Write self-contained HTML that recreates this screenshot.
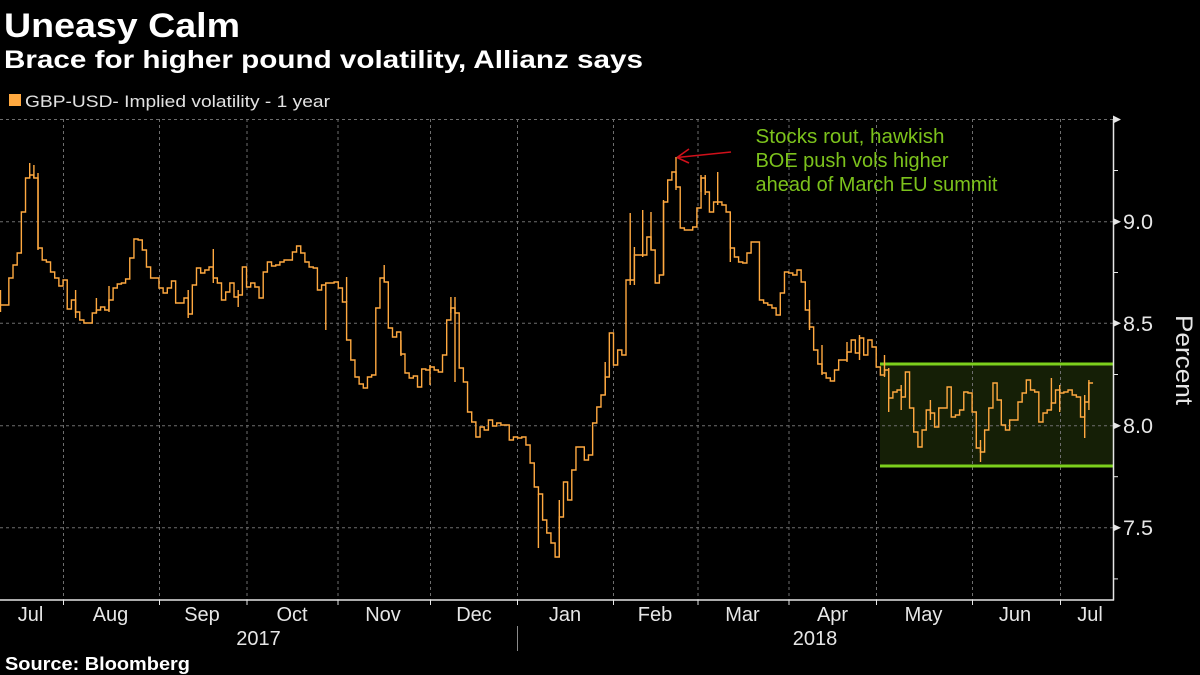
<!DOCTYPE html>
<html>
<head>
<meta charset="utf-8">
<style>
  html,body{margin:0;padding:0;background:#000;}
  svg{display:block;}
  text{font-family:"Liberation Sans","DejaVu Sans",sans-serif;}
</style>
</head>
<body>
<svg width="1200" height="675" viewBox="0 0 1200 675" xmlns="http://www.w3.org/2000/svg">
  <rect x="0" y="0" width="1200" height="675" fill="#000"/>

  <!-- Titles -->
  <text x="4" y="37" font-size="34" font-weight="bold" fill="#ffffff" textLength="236" lengthAdjust="spacingAndGlyphs">Uneasy Calm</text>
  <text x="4" y="68" font-size="25" font-weight="bold" fill="#ffffff" textLength="639" lengthAdjust="spacingAndGlyphs">Brace for higher pound volatility, Allianz says</text>

  <!-- Legend -->
  <rect x="9" y="94" width="12" height="12" fill="#ffa940"/>
  <text x="25" y="107" font-size="17" fill="#e2e2e2" textLength="305" lengthAdjust="spacingAndGlyphs">GBP-USD- Implied volatility - 1 year</text>

  <!-- Shaded range box -->
  <rect x="880" y="364" width="233" height="102" fill="#151f06"/>

  <!-- Horizontal gridlines -->
  <g stroke="#6e6e6e" stroke-width="1" stroke-dasharray="3,3" fill="none">
    <line x1="0" y1="119.5" x2="1113" y2="119.5"/>
    <line x1="0" y1="221.7" x2="1113" y2="221.7"/>
    <line x1="0" y1="323.3" x2="1113" y2="323.3"/>
    <line x1="0" y1="425.7" x2="1113" y2="425.7"/>
    <line x1="0" y1="527.8" x2="1113" y2="527.8"/>
  </g>
  <!-- Vertical gridlines -->
  <g stroke="#6e6e6e" stroke-width="1" stroke-dasharray="3,3" fill="none">
    <line x1="63.5" y1="119" x2="63.5" y2="600"/>
    <line x1="159.5" y1="119" x2="159.5" y2="600"/>
    <line x1="247" y1="119" x2="247" y2="600"/>
    <line x1="338" y1="119" x2="338" y2="600"/>
    <line x1="430.5" y1="119" x2="430.5" y2="600"/>
    <line x1="517.5" y1="119" x2="517.5" y2="600"/>
    <line x1="613.5" y1="119" x2="613.5" y2="600"/>
    <line x1="698" y1="119" x2="698" y2="600"/>
    <line x1="789" y1="119" x2="789" y2="600"/>
    <line x1="876.5" y1="119" x2="876.5" y2="600"/>
    <line x1="972.5" y1="119" x2="972.5" y2="600"/>
    <line x1="1060.5" y1="119" x2="1060.5" y2="600"/>
  </g>

  <!-- Green box borders -->
  <line x1="880" y1="364" x2="1113" y2="364" stroke="#7ccf1c" stroke-width="3"/>
  <line x1="880" y1="466" x2="1113" y2="466" stroke="#7ccf1c" stroke-width="3"/>

  <!-- Series step line -->
  <path fill="none" stroke="#ffa940" stroke-width="1.4" stroke-linejoin="miter" d="M0.5,305
h4.17V305h4.17V278h4.17V265h4.17V253h4.17V212h4.17V178h4.17V175h4.17V178h4.17V248h4.17V260
h4.17V262h4.17V272h4.17V278h4.17V286h4.17V280h4.17V309h4.17V300h4.17V312h4.17V320h4.17V323
h4.17V323h4.17V313h4.17V310h4.17V307h4.17V310h4.17V300h4.17V288h4.17V284h4.17V283h4.17V279
h4.17V258h4.17V239h4.17V240h4.17V250h4.17V267h4.17V278h4.17V278h4.17V288h4.17V293h4.17V288
h4.17V281h4.17V303h4.17V303h4.17V298h4.17V314h4.17V285h4.17V268h4.17V273h4.17V270h4.17V267
h4.17V278h4.17V283h4.17V300h4.17V292h4.17V283h4.17V297h4.17V295h4.17V267h4.17V287h4.17V283
h4.17V287h4.17V298h4.17V272h4.17V262h4.17V266h4.17V265h4.17V262h4.17V260h4.17V260h4.17V252
h4.17V246h4.17V253h4.17V262h4.17V267h4.17V268h4.17V290h4.17V285h4.17V283h4.17V283h4.17V282
h4.17V288h4.17V302h4.17V340h4.17V360h4.17V377h4.17V384h4.17V388h4.17V377h4.17V375h4.17V308
h4.17V278h4.17V282h4.17V328h4.17V337h4.17V332h4.17V354h4.17V373h4.17V378h4.17V376h4.17V387
h4.17V369h4.17V370h4.17V367h4.17V370h4.17V372h4.17V355h4.17V320h4.17V308h4.17V313h4.17V368
h4.17V382h4.17V412h4.17V422h4.17V437h4.17V427h4.17V430h4.17V420h4.17V426h4.17V423h4.17V425
h4.17V425h4.17V440h4.17V437h4.17V438h4.17V437h4.17V445h4.17V463h4.17V487h4.17V494h4.17V520
h4.17V533h4.17V543h4.17V557h4.17V517h4.17V482h4.17V500h4.17V470h4.17V447h4.17V447h4.17V460
h4.17V455h4.17V423h4.17V407h4.17V395h4.17V377h4.17V333h4.17V365h4.17V350h4.17V355h4.17V280
h4.17V280h4.17V255h4.17V255h4.17V255h4.17V237h4.17V250h4.17V283h4.17V275h4.17V202h4.17V180
h4.17V172h4.17V187h4.17V228h4.17V230h4.17V230h4.17V227h4.17V208h4.17V178h4.17V192h4.17V212
h4.17V202h4.17V202h4.17V205h4.17V212h4.17V248h4.17V257h4.17V262h4.17V263h4.17V253h4.17V242
h4.17V242h4.17V300h4.17V303h4.17V305h4.17V308h4.17V315h4.17V293h4.17V272h4.17V273h4.17V275
h4.17V270h4.17V282h4.17V310h4.17V327h4.17V350h4.17V364h4.17V373h4.17V378h4.17V381h4.17V370
h4.17V360h4.17V360h4.17V352h4.17V340h4.17V353h4.17V338h4.17V355h4.17V340h4.17V347h4.17V367
h4.17V375h4.17V370h4.17V398h4.17V392h4.17V390h4.17V397h4.17V372h4.17V408h4.17V432h4.17V447
h4.17V430h4.17V410h4.17V413h4.17V427h4.17V408h4.17V408h4.17V387h4.17V417h4.17V415h4.17V410
h4.17V392h4.17V393h4.17V412h4.17V448h4.17V452h4.17V430h4.17V408h4.17V383h4.17V400h4.17V425
h4.17V430h4.17V420h4.17V420h4.17V402h4.17V393h4.17V380h4.17V390h4.17V392h4.17V422h4.17V413
h4.17V410h4.17V403h4.17V390h4.17V393h4.17V392h4.17V390h4.17V395h4.17V397h4.17V417h4.17V402h4.17V383
h4.17"/>

  <!-- High/low spikes -->
  <path fill="none" stroke="#ffa940" stroke-width="1.4" d="
M29.7,163V178 M33.9,165V178 M38,173V250 M188.2,290V318 M213.3,249V283 M238.2,290V307
M325.8,283V330 M450.9,297V313 M455,297V382 M630.2,213V285 M634.4,247V285 M642.7,210V257
M676,157V190 M701,175V192 M717.7,172V205 M884.5,355V377 M888.7,368V412 M980.5,440V462
M1084.7,395V438 M1088.9,380V410 M0.5,290V312 M75.6,290V318 M96.4,298V313
M109,286V312 M346.6,277V302 M384.2,265V282 M401,340V356 M430,365V385 M538.4,494V548 M559.3,500V557
M605.2,362V395 M651,212V250 M663.5,200V275 M705.2,175V195 M730.3,212V262
M809.5,300V330 M822,345V375 M847,342V362 M859.5,335V360 M901.2,385V410 M930.4,400V420
M1051.4,378V410 M1059.7,385V412"/>

  <!-- Axes -->
  <line x1="0" y1="600" x2="1114" y2="600" stroke="#e6e6e6" stroke-width="1.5"/>
  <line x1="1113.5" y1="119" x2="1113.5" y2="600.5" stroke="#e6e6e6" stroke-width="1.5"/>

  <!-- X-axis month ticks -->
  <g stroke="#e6e6e6" stroke-width="1">
    <line x1="63.5" y1="600" x2="63.5" y2="605"/>
    <line x1="159.5" y1="600" x2="159.5" y2="605"/>
    <line x1="247" y1="600" x2="247" y2="605"/>
    <line x1="338" y1="600" x2="338" y2="605"/>
    <line x1="430.5" y1="600" x2="430.5" y2="605"/>
    <line x1="517.5" y1="600" x2="517.5" y2="605"/>
    <line x1="613.5" y1="600" x2="613.5" y2="605"/>
    <line x1="698" y1="600" x2="698" y2="605"/>
    <line x1="789" y1="600" x2="789" y2="605"/>
    <line x1="876.5" y1="600" x2="876.5" y2="605"/>
    <line x1="972.5" y1="600" x2="972.5" y2="605"/>
    <line x1="1060.5" y1="600" x2="1060.5" y2="605"/>
  </g>

  <!-- Y-axis tick markers -->
  <g fill="#e6e6e6">
    <polygon points="1113,115.5 1121,119.5 1113,123.5"/>
    <polygon points="1113,218 1121,221.7 1113,225.5"/>
    <polygon points="1113,319.5 1121,323.3 1113,327"/>
    <polygon points="1113,422 1121,425.7 1113,429.5"/>
    <polygon points="1113,524 1121,527.8 1113,531.5"/>
  </g>
  <g stroke="#e6e6e6" stroke-width="1">
    <line x1="1113" y1="170.5" x2="1118" y2="170.5"/>
    <line x1="1113" y1="272.5" x2="1118" y2="272.5"/>
    <line x1="1113" y1="374.5" x2="1118" y2="374.5"/>
    <line x1="1113" y1="476.7" x2="1118" y2="476.7"/>
    <line x1="1113" y1="578.9" x2="1118" y2="578.9"/>
  </g>

  <!-- Y labels -->
  <g font-size="21" fill="#e6e6e6">
    <text x="1123" y="229" textLength="30" lengthAdjust="spacingAndGlyphs">9.0</text>
    <text x="1123" y="331" textLength="30" lengthAdjust="spacingAndGlyphs">8.5</text>
    <text x="1123" y="433" textLength="30" lengthAdjust="spacingAndGlyphs">8.0</text>
    <text x="1123" y="535" textLength="30" lengthAdjust="spacingAndGlyphs">7.5</text>
  </g>
  <text transform="translate(1176,360) rotate(90)" text-anchor="middle" font-size="24" fill="#e6e6e6" textLength="90" lengthAdjust="spacingAndGlyphs">Percent</text>

  <!-- X labels -->
  <g font-size="20" fill="#e6e6e6" text-anchor="middle">
    <text x="30.5" y="621">Jul</text>
    <text x="110.5" y="621">Aug</text>
    <text x="202" y="621">Sep</text>
    <text x="292" y="621">Oct</text>
    <text x="383" y="621">Nov</text>
    <text x="474" y="621">Dec</text>
    <text x="565" y="621">Jan</text>
    <text x="655" y="621">Feb</text>
    <text x="742.5" y="621">Mar</text>
    <text x="832.5" y="621">Apr</text>
    <text x="923.5" y="621">May</text>
    <text x="1015" y="621">Jun</text>
    <text x="1090" y="621">Jul</text>
    <text x="258.5" y="645">2017</text>
    <text x="815" y="645">2018</text>
  </g>
  <line x1="517.5" y1="626" x2="517.5" y2="651" stroke="#8a8a8a" stroke-width="1"/>

  <!-- Source -->
  <text x="5" y="670" font-size="18" font-weight="bold" fill="#ffffff" textLength="185" lengthAdjust="spacingAndGlyphs">Source: Bloomberg</text>

  <!-- Annotation -->
  <g font-size="20" fill="#7cc21c">
    <text x="755.5" y="143" textLength="189" lengthAdjust="spacingAndGlyphs">Stocks rout, hawkish</text>
    <text x="755.5" y="167" textLength="193" lengthAdjust="spacingAndGlyphs">BOE push vols higher</text>
    <text x="755.5" y="191" textLength="242" lengthAdjust="spacingAndGlyphs">ahead of March EU summit</text>
  </g>
  <g stroke="#d0101a" stroke-width="1.6" fill="none">
    <line x1="731" y1="152" x2="677" y2="157.5"/>
    <line x1="677" y1="157.5" x2="689" y2="149"/>
    <line x1="677" y1="157.5" x2="689" y2="163"/>
  </g>
</svg>
</body>
</html>
